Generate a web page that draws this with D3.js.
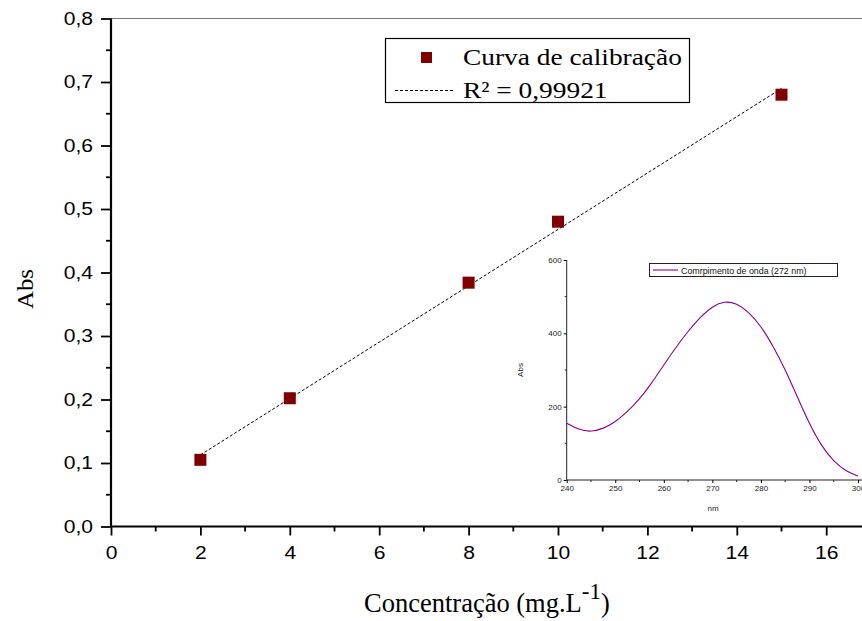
<!DOCTYPE html>
<html>
<head>
<meta charset="utf-8">
<script src="https://cdn.jsdelivr.net/npm/d3@7"></script>
<style>
  body { margin: 0; background: #fff; }
  svg { display: block; }
</style>
</head>
<body>
<div id="chart"></div>
<script>
// calibration points
const conc = [2, 4, 8, 10, 15];
const abs = [0.105, 0.202, 0.384, 0.48, 0.68];
const legendLabels = ["Curva de calibração", "R² = 0,99921"];

// inset spectrum
const wavelength = [240, 242.5, 245, 247.5, 250, 252.5, 255, 257.5, 260, 262.5, 265, 267.5, 270, 272.5, 275, 277.5, 280, 282.5, 285, 287.5, 290, 292.5, 295, 297.5, 300];
const spectrum = [155, 137, 131, 140, 158, 186, 220, 264, 314, 362, 406, 444, 474, 488, 482, 458, 420, 366, 302, 227, 152, 92, 50, 24, 11];
const insetLegend = "Comrpimento de onda (272 nm)";

const W = 862, H = 621;
const svg = d3.select("#chart").append("svg")
    .attr("width", W)
    .attr("height", H);

// the reference text is a bit wider than the fonts here
function stretch(sel, k) {
    sel.each(function () {
        const len = this.getComputedTextLength();
        d3.select(this).attr("textLength", len * k).attr("lengthAdjust", "spacingAndGlyphs");
    });
}

const x = d3.scaleLinear().domain([0, 17]).range([111, 111 + 17 * 44.7]);
const y = d3.scaleLinear().domain([0, 0.8]).range([526.5, 18.5]);

// top frame line
svg.append("line")
    .attr("x1", 111).attr("x2", W)
    .attr("y1", y(0.8)).attr("y2", y(0.8))
    .attr("stroke", "#777").attr("stroke-width", 1);

const tickFont = "'Liberation Sans', Arial, sans-serif";
const serif = "'Liberation Serif', 'Times New Roman', serif";

// y axis
const yAxis = d3.axisLeft(y)
    .tickValues(d3.range(0, 0.81, 0.1))
    .tickSize(10)
    .tickPadding(8)
    .tickFormat(d => d3.format(".1f")(d).replace(".", ","));
const gy = svg.append("g")
    .attr("transform", `translate(${x(0)},0)`)
    .call(yAxis);
gy.select(".domain").attr("stroke-width", 2.2).attr("d", `M0,${y(0)}V${y(0.8)}`);
gy.selectAll(".tick line").attr("stroke-width", 1.8);
gy.selectAll("text").attr("font-family", tickFont).attr("font-size", 18).attr("fill", "#000").call(stretch, 1.17);
gy.selectAll(".minor")
    .data(d3.range(0.05, 0.8, 0.1))
    .join("line")
    .attr("class", "minor")
    .attr("x1", -5).attr("x2", 0)
    .attr("y1", d => y(d)).attr("y2", d => y(d))
    .attr("stroke", "#000").attr("stroke-width", 1.8);

// x axis
const xAxis = d3.axisBottom(x)
    .tickValues(d3.range(0, 17, 2))
    .tickSize(9)
    .tickPadding(11)
    .tickFormat(d3.format("d"));
const gx = svg.append("g")
    .attr("transform", `translate(0,${y(0)})`)
    .call(xAxis);
gx.select(".domain").attr("stroke-width", 2.2).attr("d", `M${x(0) - 1},0H${W}`);
gx.selectAll(".tick line").attr("stroke-width", 1.8);
gx.selectAll("text").attr("font-family", tickFont).attr("font-size", 18).attr("fill", "#000").call(stretch, 1.17);
gx.selectAll(".minor")
    .data(d3.range(1, 17, 2))
    .join("line")
    .attr("class", "minor")
    .attr("x1", d => x(d)).attr("x2", d => x(d))
    .attr("y1", 0).attr("y2", 5)
    .attr("stroke", "#000").attr("stroke-width", 1.8);

// axis titles
const xt = svg.append("text")
    .attr("x", 364).attr("y", 612)
    .attr("font-family", serif).attr("font-size", 26.5);
xt.append("tspan").text("Concentração (mg.L");
xt.append("tspan").attr("dy", -13).attr("font-size", 23).text("-1");
xt.append("tspan").attr("dy", 13).text(")");

svg.append("text")
    .attr("transform", `translate(33,289) rotate(-90)`)
    .attr("text-anchor", "middle")
    .attr("font-family", serif).attr("font-size", 23)
    .text("Abs")
    .call(stretch, 1.08);

// linear fit
const mx = d3.mean(conc), my = d3.mean(abs);
const slope = d3.sum(conc, (c, i) => (c - mx) * (abs[i] - my)) / d3.sum(conc, c => (c - mx) ** 2);
const icpt = my - slope * mx;
const xs = d3.extent(conc);
svg.append("line")
    .attr("x1", x(xs[0])).attr("y1", y(icpt + slope * xs[0]))
    .attr("x2", x(xs[1])).attr("y2", y(icpt + slope * xs[1]))
    .attr("stroke", "#000").attr("stroke-width", 1)
    .attr("stroke-dasharray", "3,2");

// points
const ms = 12;
svg.selectAll(".pt")
    .data(conc)
    .join("rect")
    .attr("class", "pt")
    .attr("x", (d, i) => x(d) - ms / 2)
    .attr("y", (d, i) => y(abs[i]) - ms / 2)
    .attr("width", ms).attr("height", ms)
    .attr("fill", "#800000");

// legend
const lg = svg.append("g");
lg.append("rect")
    .attr("x", 385.5).attr("y", 38.5).attr("width", 304).attr("height", 64)
    .attr("fill", "#fff").attr("stroke", "#000").attr("stroke-width", 1.2);
lg.append("rect")
    .attr("x", 421).attr("y", 52).attr("width", 11).attr("height", 11)
    .attr("fill", "#800000");
lg.append("line")
    .attr("x1", 395).attr("x2", 453).attr("y1", 90.5).attr("y2", 90.5)
    .attr("stroke", "#000").attr("stroke-dasharray", "3,2");
lg.selectAll(".lt")
    .data(legendLabels)
    .join("text")
    .attr("class", "lt")
    .attr("x", 463).attr("y", (d, i) => 65 + i * 33)
    .attr("font-family", serif).attr("font-size", 23)
    .text(d => d)
    .call(stretch, 1.19);

// inset
const ix = d3.scaleLinear().domain([240, 300]).range([566.7, 858]);
const iy = d3.scaleLinear().domain([0, 600]).range([480, 260]);
const inset = svg.append("g");
const smallFont = "'Liberation Sans', Arial, sans-serif";

const igx = inset.append("g")
    .attr("transform", `translate(0,${iy(0)})`)
    .call(d3.axisBottom(ix).tickValues(d3.range(240, 301, 10)).tickSize(3).tickPadding(2));
igx.select(".domain").attr("d", `M${ix(240)},0H${W}`).attr("stroke", "#222");
igx.selectAll("text").attr("font-family", smallFont).attr("font-size", 8).attr("fill", "#222");
igx.selectAll(".minor")
    .data(d3.range(245, 300, 10))
    .join("line").attr("class", "minor")
    .attr("x1", d => ix(d)).attr("x2", d => ix(d))
    .attr("y1", 0).attr("y2", 2).attr("stroke", "#222");

const igy = inset.append("g")
    .attr("transform", `translate(${ix(240)},0)`)
    .call(d3.axisLeft(iy).tickValues(d3.range(0, 601, 200)).tickSize(3).tickPadding(2));
igy.select(".domain").attr("d", `M0,${iy(0)}V${iy(600)}`).attr("stroke", "#222");
igy.selectAll("text").attr("font-family", smallFont).attr("font-size", 8).attr("fill", "#222");
igy.selectAll(".minor")
    .data(d3.range(100, 600, 200))
    .join("line").attr("class", "minor")
    .attr("x1", -2).attr("x2", 0)
    .attr("y1", d => iy(d)).attr("y2", d => iy(d)).attr("stroke", "#222");

inset.append("text")
    .attr("x", 713).attr("y", 511)
    .attr("text-anchor", "middle")
    .attr("font-family", smallFont).attr("font-size", 8).attr("fill", "#222")
    .text("nm");
inset.append("text")
    .attr("transform", "translate(523,370) rotate(-90)")
    .attr("text-anchor", "middle")
    .attr("font-family", smallFont).attr("font-size", 8).attr("fill", "#222")
    .text("Abs");

inset.append("path")
    .datum(wavelength.map((w, i) => [w, spectrum[i]]))
    .attr("d", d3.line().x(d => ix(d[0])).y(d => iy(d[1])).curve(d3.curveBasis))
    .attr("fill", "none")
    .attr("stroke", "#8b008b")
    .attr("stroke-width", 1.1);

inset.append("rect")
    .attr("x", 649.5).attr("y", 263.5).attr("width", 188).attr("height", 13)
    .attr("fill", "#fff").attr("stroke", "#222").attr("stroke-width", 1);
inset.append("line")
    .attr("x1", 653).attr("x2", 678).attr("y1", 270).attr("y2", 270)
    .attr("stroke", "#8b008b").attr("stroke-width", 1.1);
inset.append("text")
    .attr("x", 681).attr("y", 273.5)
    .attr("font-family", smallFont).attr("font-size", 8.6).attr("fill", "#111")
    .text(insetLegend)
    .call(stretch, 1.03);
</script>
</body>
</html>
